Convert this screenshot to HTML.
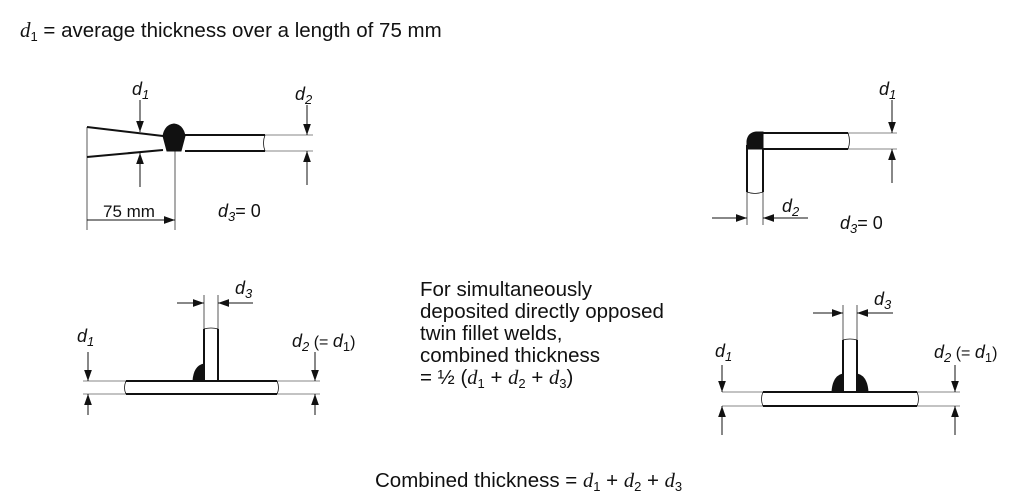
<!DOCTYPE html>
<html><head><meta charset="utf-8"><style>
html,body{margin:0;padding:0;background:#fff;}
svg{display:block;}
text{font-family:"Liberation Sans",sans-serif;fill:#111;}
.s{font-family:"Liberation Serif",serif;font-style:italic;}
.l{font-style:italic;font-size:18px;}
</style></head><body>
<svg width="1024" height="495" viewBox="0 0 1024 495" xmlns="http://www.w3.org/2000/svg">
<defs>
<marker id="a" viewBox="0 0 10 10" refX="10" refY="5" markerWidth="11" markerHeight="11" markerUnits="userSpaceOnUse" orient="auto"><path d="M0,1.5 L10,5 L0,8.5Z" fill="#111"/></marker>
</defs>
<g stroke="#111" fill="none">
<!-- Diagram 1 -->
<path d="M87,127 L163,136 M87,157 L163,150" stroke-width="2"/>
<path d="M87,127 L87,157" stroke-width="0.7"/>
<path d="M185,135 L265,135 M185,151 L265,151" stroke-width="2"/>
<path d="M265,135 Q262,143 265,151" stroke-width="0.8"/>
<path d="M265,135 L313,135 M265,151 L313,151" stroke-width="0.6"/>
<path d="M163,136 Q165,125 174,124 Q183,125 185,136 L181,151 L167,151 Z" fill="#111"/>
<path d="M87,157 L87,230 M175,151 L175,230" stroke-width="0.7"/>
<path d="M140,100 L140,132" stroke-width="1" marker-end="url(#a)"/>
<path d="M140,187 L140,153" stroke-width="1" marker-end="url(#a)"/>
<path d="M307,105 L307,135" stroke-width="1" marker-end="url(#a)"/>
<path d="M307,185 L307,151" stroke-width="1" marker-end="url(#a)"/>
<path d="M131,220 L87,220 M131,220 L175,220" stroke-width="1" marker-end="url(#a)"/>
<!-- Diagram 2 -->
<path d="M763,133 L848,133 M763,149 L848,149 M747,145 L747,192 M763,149 L763,192" stroke-width="2"/>
<path d="M848,133 Q851,141 848,149" stroke-width="0.8"/>
<path d="M848,133 L897,133 M848,149 L897,149" stroke-width="0.6"/>
<path d="M747,192 Q755,195 763,192" stroke-width="0.8"/>
<path d="M747,149 L747,141 Q748,133 756,132 L763,132 L763,149 Z" fill="#111"/>
<path d="M747,192 L747,225 M763,192 L763,225" stroke-width="0.7"/>
<path d="M892,100 L892,133" stroke-width="1" marker-end="url(#a)"/>
<path d="M892,183 L892,149" stroke-width="1" marker-end="url(#a)"/>
<path d="M712,218 L747,218" stroke-width="1" marker-end="url(#a)"/>
<path d="M808,218 L763,218" stroke-width="1" marker-end="url(#a)"/>
<!-- Diagram 3 -->
<path d="M126,381 L277,381 M126,394 L277,394 M204,329 L204,381 M218,329 L218,381" stroke-width="2"/>
<path d="M126,381 Q123,388 126,394 M277,381 Q280,388 277,394 M204,329 Q211,327 218,329" stroke-width="0.8"/>
<path d="M83,381 L126,381 M83,394 L126,394 M277,381 L320,381 M277,394 L320,394" stroke-width="0.6"/>
<path d="M193,381 Q194,366 204,364 L204,381 Z" fill="#111"/>
<path d="M204,295 L204,329 M218,295 L218,329" stroke-width="0.7"/>
<path d="M177,303 L204,303" stroke-width="1" marker-end="url(#a)"/>
<path d="M253,303 L218,303" stroke-width="1" marker-end="url(#a)"/>
<path d="M88,352 L88,381" stroke-width="1" marker-end="url(#a)"/>
<path d="M88,415 L88,394" stroke-width="1" marker-end="url(#a)"/>
<path d="M315,352 L315,381" stroke-width="1" marker-end="url(#a)"/>
<path d="M315,415 L315,394" stroke-width="1" marker-end="url(#a)"/>
<!-- Diagram 4 -->
<path d="M763,392 L917,392 M763,406 L917,406 M843,340 L843,392 M857,340 L857,392" stroke-width="2"/>
<path d="M763,392 Q760,399 763,406 M917,392 Q920,399 917,406 M843,340 Q850,338 857,340" stroke-width="0.8"/>
<path d="M722,392 L763,392 M722,406 L763,406 M917,392 L960,392 M917,406 L960,406" stroke-width="0.6"/>
<path d="M832,392 Q833,376 843,374 L843,392 Z M868,392 Q867,376 857,374 L857,392 Z" fill="#111"/>
<path d="M843,305 L843,340 M857,305 L857,340" stroke-width="0.7"/>
<path d="M813,313 L843,313" stroke-width="1" marker-end="url(#a)"/>
<path d="M893,313 L857,313" stroke-width="1" marker-end="url(#a)"/>
<path d="M722,365 L722,392" stroke-width="1" marker-end="url(#a)"/>
<path d="M722,435 L722,406" stroke-width="1" marker-end="url(#a)"/>
<path d="M955,365 L955,392" stroke-width="1" marker-end="url(#a)"/>
<path d="M955,435 L955,406" stroke-width="1" marker-end="url(#a)"/>
</g>
<!-- texts -->
<text x="20" y="37" font-size="20.5"><tspan class="s" font-size="21">d</tspan><tspan font-size="13" dy="4">1</tspan><tspan dy="-4"> = average thickness over a length of 75 mm</tspan></text>
<text class="l" x="132" y="95">d<tspan font-size="13" dy="4">1</tspan></text>
<text class="l" x="295" y="100">d<tspan font-size="13" dy="4">2</tspan></text>
<text x="103" y="217" font-size="17">75 mm</text>
<text class="l" x="218" y="217">d<tspan font-size="13" dy="4">3</tspan><tspan dy="-4" font-style="normal">= 0</tspan></text>
<text class="l" x="879" y="95">d<tspan font-size="13" dy="4">1</tspan></text>
<text class="l" x="782" y="212">d<tspan font-size="13" dy="4">2</tspan></text>
<text class="l" x="840" y="229">d<tspan font-size="13" dy="4">3</tspan><tspan dy="-4" font-style="normal">= 0</tspan></text>
<text class="l" x="235" y="294">d<tspan font-size="13" dy="4">3</tspan></text>
<text class="l" x="77" y="342">d<tspan font-size="13" dy="4">1</tspan></text>
<text class="l" x="292" y="347">d<tspan font-size="13" dy="4">2</tspan><tspan dy="-4" font-style="normal" font-size="16"> (= </tspan><tspan>d</tspan><tspan font-size="13" dy="4" font-style="normal">1</tspan><tspan dy="-4" font-style="normal" font-size="16">)</tspan></text>
<text class="l" x="874" y="305">d<tspan font-size="13" dy="4">3</tspan></text>
<text class="l" x="715" y="357">d<tspan font-size="13" dy="4">1</tspan></text>
<text class="l" x="934" y="358">d<tspan font-size="13" dy="4">2</tspan><tspan dy="-4" font-style="normal" font-size="16"> (= </tspan><tspan>d</tspan><tspan font-size="13" dy="4" font-style="normal">1</tspan><tspan dy="-4" font-style="normal" font-size="16">)</tspan></text>
<g font-size="20.5">
<text x="420" y="296">For simultaneously</text>
<text x="420" y="318">deposited directly opposed</text>
<text x="420" y="340">twin fillet welds,</text>
<text x="420" y="362">combined thickness</text>
<text x="420" y="384">= ½ (<tspan class="s">d</tspan><tspan font-size="13" dy="4">1</tspan><tspan dy="-4">  + </tspan><tspan class="s">d</tspan><tspan font-size="13" dy="4">2</tspan><tspan dy="-4"> + </tspan><tspan class="s">d</tspan><tspan font-size="13" dy="4">3</tspan><tspan dy="-4">)</tspan></text>
<text x="375" y="487">Combined thickness = <tspan class="s">d</tspan><tspan font-size="13" dy="4">1</tspan><tspan dy="-4">  + </tspan><tspan class="s">d</tspan><tspan font-size="13" dy="4">2</tspan><tspan dy="-4"> + </tspan><tspan class="s">d</tspan><tspan font-size="13" dy="4">3</tspan></text>
</g>
</svg>
</body></html>
